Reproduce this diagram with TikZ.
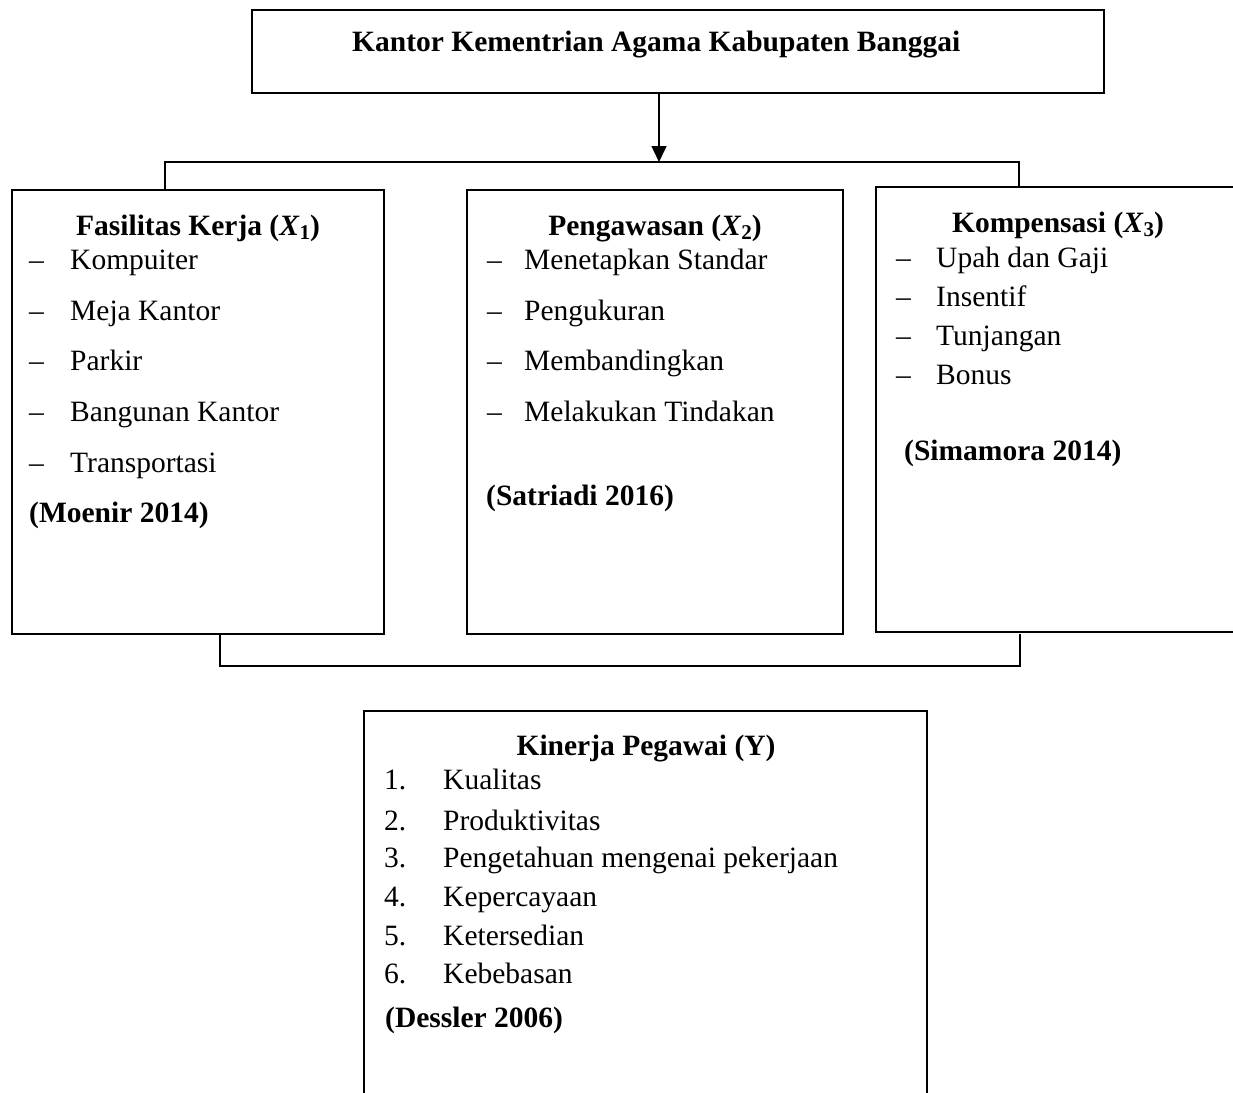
\documentclass[tikz,border=0pt]{standalone}
\usepackage{fontspec}
\setmainfont{Liberation Serif}
\usetikzlibrary{arrows.meta}
\newcommand{\xsub}[1]{\textbf{(}\textbf{\textit{X}}\raisebox{-0.35ex}{\fontsize{21}{21}\selectfont\textbf{#1}}\textbf{)}}
\begin{document}
\begin{tikzpicture}[x=1pt,y=-1pt,
  frame/.style={draw, line width=1.5pt, inner sep=0pt, outer sep=0pt},
  line/.style={line width=1.5pt},
  txt/.style={anchor=base west, inner sep=0pt, font=\fontsize{29.5}{35}\selectfont},
  ttl/.style={anchor=base, inner sep=0pt, font=\fontsize{29.5}{35}\selectfont\bfseries},
  dsh/.style={anchor=base west, inner sep=0pt, font=\fontsize{29.5}{35}\selectfont}]
\clip (0,0) rectangle (1233,1092);
\useasboundingbox (0,0) rectangle (1233,1092);
% boxes
\node[frame, anchor=north west, minimum width=852pt, minimum height=83pt] (top) at (252,10) {};
\node[frame, anchor=north west, minimum width=372pt, minimum height=444pt] (x1) at (12,190) {};
\node[frame, anchor=north west, minimum width=376pt, minimum height=444pt] (x2) at (467,190) {};
\node[frame, anchor=north west, minimum width=370pt, minimum height=445pt] (x3) at (876,187) {};
\node[frame, anchor=north west, minimum width=563pt, minimum height=400pt] (y) at (364,711) {};
% title
\node[anchor=base west, inner sep=0pt, font=\fontsize{29.5}{35}\selectfont\bfseries] (ttop) at (352,51) {Kantor Kementrian Agama Kabupaten Banggai};
% connectors
\coordinate (tl) at (165,162);
\coordinate (tr) at (1019,162);
\coordinate (arr) at (659,162);
\draw[line] (tl |- x1.north) -- (tl) -- (tr) -- (tr |- x3.north);
\draw[line, -{Triangle[length=16pt,width=15pt]}] (arr |- top.south) -- (arr);
\coordinate (bl) at (220,666);
\coordinate (br) at (1020,666);
\draw[line] (bl |- x1.south) -- (bl) -- (br) -- ([yshift=-2pt]br |- x3.south);
% X1
\node[ttl] (t1) at (198,235) {Fasilitas Kerja \xsub{1}};
\foreach \yy/\tx [count=\i] in {269/Kompuiter,320/Meja Kantor,370/Parkir,421/Bangunan Kantor,472/Transportasi}{
  \node[dsh] (d1\i) at (29,\yy) {–};
  \node[txt] (a1\i) at (70,\yy) {\tx};
}
\node[txt, font=\fontsize{29.5}{35}\selectfont\bfseries] (r1) at (29,522) {(Moenir 2014)};
% X2
\node[ttl] (t2) at (655,235) {Pengawasan \xsub{2}};
\foreach \yy/\tx [count=\i] in {269/Menetapkan Standar,320/Pengukuran,370/Membandingkan,421/Melakukan Tindakan}{
  \node[dsh] (d2\i) at (487,\yy) {–};
  \node[txt] (a2\i) at (524,\yy) {\tx};
}
\node[txt, font=\fontsize{29.5}{35}\selectfont\bfseries] (r2) at (486,505) {(Satriadi 2016)};
% X3
\node[ttl] (t3) at (1058,232) {Kompensasi \xsub{3}};
\foreach \yy/\tx [count=\i] in {267/Upah dan Gaji,306/Insentif,345/Tunjangan,384/Bonus}{
  \node[dsh] (d3\i) at (896,\yy) {–};
  \node[txt] (a3\i) at (936,\yy) {\tx};
}
\node[txt, font=\fontsize{29.5}{35}\selectfont\bfseries] (r3) at (904,460) {(Simamora 2014)};
% Y
\node[ttl] (ty) at (646,755) {Kinerja Pegawai (Y)};
\foreach \yy/\tx [count=\i] in {789/Kualitas,830/Produktivitas,867/Pengetahuan mengenai pekerjaan,906/Kepercayaan,945/Ketersedian,983/Kebebasan}{
  \node[txt] (n\i) at (384,\yy) {\i.};
  \node[txt] (b\i) at (443,\yy) {\tx};
}
\node[txt, font=\fontsize{29.5}{35}\selectfont\bfseries] (ry) at (385,1027) {(Dessler 2006)};
\end{tikzpicture}
\end{document}
